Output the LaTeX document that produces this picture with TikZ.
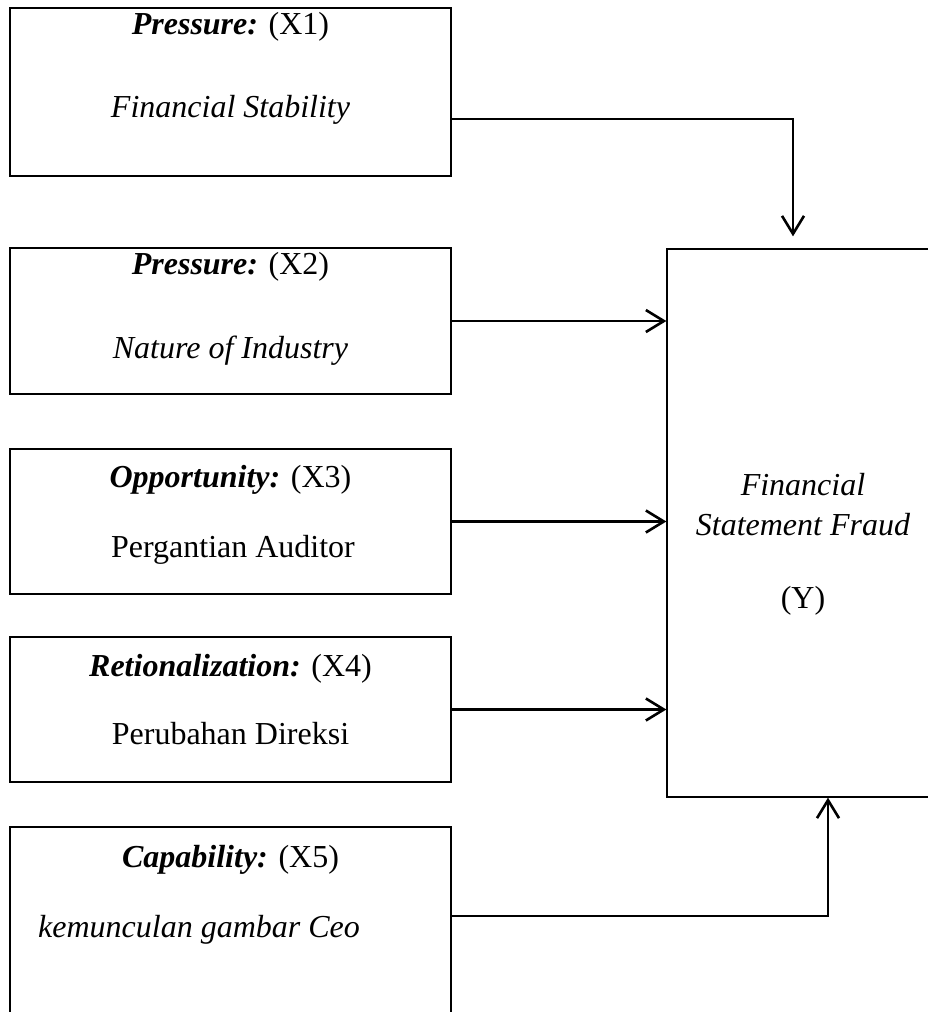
\documentclass[tikz,border=0pt]{standalone}
\usepackage{fontspec}
\setmainfont{Liberation Serif}
\usetikzlibrary{arrows.meta}

\begin{document}
\begin{tikzpicture}[x=1pt,y=-1pt,
    factor/.style={draw,line width=1.3pt,inner sep=0pt,minimum width=441pt},
    link/.style={line width=2.6pt,-{Straight Barb[length=18pt,width=22pt]}},
    lbl/.style={anchor=base,inner sep=0pt,font=\fontsize{32}{38}\selectfont}]
        \useasboundingbox (0,0) rectangle (928,1012);
        \clip (0,0) rectangle (928,1012);
        \node[factor,minimum height=168pt] (x1) at (230.5,92) {};
        \node[factor,minimum height=146pt] (x2) at (230.5,321) {};
        \node[factor,minimum height=145pt] (x3) at (230.5,521.5) {};
        \node[factor,minimum height=145pt] (x4) at (230.5,709.5) {};
        \node[factor,minimum height=220pt] (x5) at (230.5,937) {};
        \node[draw,line width=1.3pt,inner sep=0pt,minimum width=272pt,minimum height=548pt] (y) at (803,523) {};
        \node[lbl] (x1t) at (230.5,34) {\textbf{\textit{Pressure:}} (X1)};
        \node[lbl] (x1s) at (230.5,117) {\textit{Financial Stability}};
        \node[lbl] (x2t) at (230.5,274) {\textbf{\textit{Pressure:}} (X2)};
        \node[lbl] (x2s) at (230.5,358) {\textit{Nature of Industry}};
        \node[lbl] (x3t) at (230.5,487) {\textbf{\textit{Opportunity:}} (X3)};
        \node[lbl] (x3s) at (233,557) {Pergantian Auditor};
        \node[lbl] (x4t) at (230.5,676) {\textbf{\textit{Retionalization:}} (X4)};
        \node[lbl] (x4s) at (230.5,744) {Perubahan Direksi};
        \node[lbl] (x5t) at (230.5,867) {\textbf{\textit{Capability:}} (X5)};
        \node[lbl,anchor=base west] (x5s) at (38,937) {\textit{kemunculan gambar Ceo}};
        \node[lbl] (yt) at (803,495) {\textit{Financial}};
        \node[lbl] (ys) at (803,535) {\textit{Statement Fraud}};
        \node[lbl] (yv) at (803,608) {(Y)};
        \draw[link] ([yshift=-27pt]x1.east) -| ([xshift=-10pt,yshift=12pt]y.north);
        \draw[link] (x2.east) -- (x2.east -| y.west);
        \draw[link] (x3.east) -- (x3.east -| y.west);
        \draw[link] (x4.east) -- (x4.east -| y.west);
        \draw[link] ([yshift=21pt]x5.east) -| ([xshift=25pt]y.south);
      \end{tikzpicture}
\end{document}
